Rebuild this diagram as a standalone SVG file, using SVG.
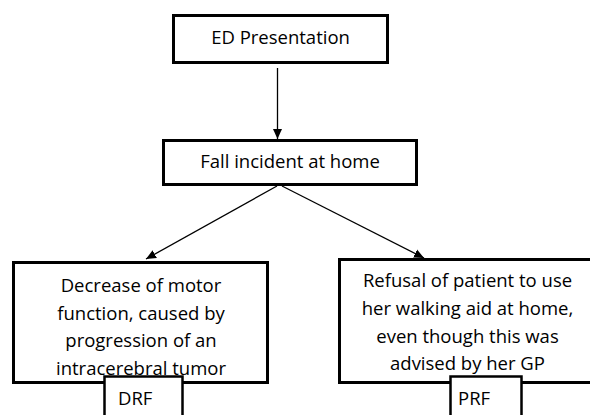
<svg xmlns="http://www.w3.org/2000/svg" width="590" height="415" viewBox="0 0 590 415">
  <style>
    .box { fill: #ffffff; stroke: #000000; stroke-width: 3; }
    .tag { fill: #ffffff; stroke: #000000; stroke-width: 2.5; }
    .label { font-family: "Open Sans", "Liberation Sans", sans-serif; font-size: 18.5px; fill: #000000; }
    .mid { text-anchor: middle; }
    .link { stroke: #000000; stroke-width: 1.3; fill: none; marker-end: url(#head); }
  </style>
  <defs>
    <marker id="head" viewBox="0 0 10 10" refX="10" refY="5" markerWidth="10" markerHeight="10" markerUnits="userSpaceOnUse" orient="auto">
      <path d="M0,0.5 L10,5 L0,9.5 Z" fill="#000000"/>
    </marker>
  </defs>
  <rect width="590" height="415" fill="#ffffff"/>

  <g id="connectors">
    <line class="link" x1="277.5" y1="68" x2="277.5" y2="139"/>
    <line class="link" x1="277" y1="186" x2="146" y2="259"/>
    <line class="link" x1="282" y1="186" x2="424" y2="258"/>
  </g>

  <g id="ed-presentation">
    <rect class="box" x="173.5" y="15.5" width="214" height="47"/>
    <text class="label mid" x="280.5" y="44">ED Presentation</text>
  </g>

  <g id="fall-incident">
    <rect class="box" x="163.5" y="140.5" width="253" height="44"/>
    <text class="label mid" x="290" y="168">Fall incident at home</text>
  </g>

  <g id="motor-function">
    <rect class="box" x="13.5" y="262.5" width="254" height="120"/>
    <text class="label mid" x="141" y="292">Decrease of motor</text>
    <text class="label mid" x="141" y="320">function, caused by</text>
    <text class="label mid" x="141" y="347">progression of an</text>
    <text class="label mid" x="141" y="375">intracerebral tumor</text>
  </g>

  <g id="drf">
    <rect class="tag" x="104.5" y="376.5" width="78" height="50"/>
    <text class="label" x="118" y="405">DRF</text>
  </g>

  <g id="walking-aid">
    <rect class="box" x="339.5" y="259.5" width="260" height="123"/>
    <text class="label mid" x="467.5" y="287">Refusal of patient to use</text>
    <text class="label mid" x="467.5" y="315">her walking aid at home,</text>
    <text class="label mid" x="467.5" y="343">even though this was</text>
    <text class="label mid" x="467.5" y="370">advised by her GP</text>
  </g>

  <g id="prf">
    <rect class="tag" x="450.5" y="376.5" width="71" height="50"/>
    <text class="label" x="458" y="405">PRF</text>
  </g>
</svg>
